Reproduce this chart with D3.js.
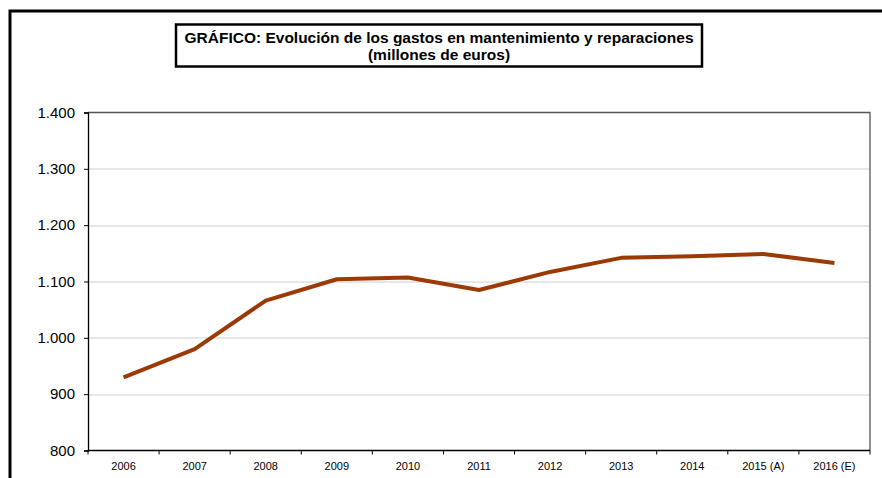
<!DOCTYPE html>
<html>
<head>
<meta charset="utf-8">
<script src="https://cdn.jsdelivr.net/npm/d3@7"></script>
<style>
  body { margin: 0; background: #fff; }
  text { font-family: "Liberation Sans", Arial, sans-serif; fill: #000; }
</style>
</head>
<body>
<div id="visualisation"></div>
<script>
// chart data
var years = ['2006', '2007', '2008', '2009', '2010', '2011', '2012', '2013', '2014', '2015 (A)', '2016 (E)'];
var gastos = [930, 980, 1066, 1104, 1107, 1085, 1117, 1142, 1145, 1149, 1133];
var yTicks = [800, 900, 1000, 1100, 1200, 1300, 1400];
var titleLines = ['GRÁFICO: Evolución de los gastos en mantenimiento y reparaciones', '(millones de euros)'];

var dims = {
    WIDTH: 882, HEIGHT: 478,
    MARGINS: { top: 112.5, right: 12, bottom: 27.5, left: 88 }
};
var plotW = 870 - dims.MARGINS.left;
var plotH = 450.5 - dims.MARGINS.top;

var svg = d3.select('#visualisation').append('svg')
    .attr('width', dims.WIDTH)
    .attr('height', dims.HEIGHT);

// outer frame (runs off the picture to the right and bottom)
svg.append('rect')
    .attr('x', 10).attr('y', 11)
    .attr('width', 900).attr('height', 500)
    .attr('fill', 'none').attr('stroke', '#000').attr('stroke-width', 3);

// title box
svg.append('rect')
    .attr('x', 176).attr('y', 24.5)
    .attr('width', 526).attr('height', 42)
    .attr('fill', '#fff').attr('stroke', '#000').attr('stroke-width', 2.5);
svg.selectAll('.title')
    .data(titleLines).enter().append('text')
    .attr('class', 'title')
    .attr('x', 439)
    .attr('y', function(d, i) { return 42.5 + i * 17; })
    .attr('text-anchor', 'middle')
    .style('font-size', '15.5px')
    .style('font-weight', 'bold')
    .text(function(d) { return d; });

var g = svg.append('g')
    .attr('transform', 'translate(' + dims.MARGINS.left + ',' + dims.MARGINS.top + ')');

var x = d3.scaleBand().domain(years).range([0, plotW]);
var y = d3.scaleLinear().domain([800, 1400]).range([plotH, 0]);

// gridlines
g.selectAll('.grid')
    .data(yTicks.slice(1, -1)).enter().append('line')
    .attr('class', 'grid')
    .attr('x1', 0).attr('x2', plotW)
    .attr('y1', function(d) { return Math.round(y(d)) + 0.5; })
    .attr('y2', function(d) { return Math.round(y(d)) + 0.5; })
    .attr('stroke', '#cfcfcf').attr('stroke-width', 1.2);

// plot border top/right
g.append('path')
    .attr('d', 'M0,0H' + plotW + 'V' + plotH)
    .attr('fill', 'none').attr('stroke', '#555').attr('stroke-width', 1.3);

// Y axis
var fmt = function(d) { return d3.format(',')(d).replace(/,/g, '.'); };
var yAxis = g.append('g')
    .call(d3.axisLeft(y).tickValues(yTicks).tickSize(4).tickPadding(9).tickFormat(fmt));
yAxis.select('.domain').attr('stroke', '#000').attr('stroke-width', 1.3);
yAxis.selectAll('text').style('font-size', '15px');

// X axis, ticks between categories
var xAxis = g.append('g')
    .attr('transform', 'translate(0,' + plotH + ')');
xAxis.append('line')
    .attr('x1', 0).attr('x2', plotW)
    .attr('stroke', '#000').attr('stroke-width', 1.6);
xAxis.selectAll('.tk')
    .data(years.concat(['end'])).enter().append('line')
    .attr('class', 'tk')
    .attr('x1', function(d, i) { return x.step() * i; })
    .attr('x2', function(d, i) { return x.step() * i; })
    .attr('y1', 0).attr('y2', 4)
    .attr('stroke', '#000');
xAxis.selectAll('.lbl')
    .data(years).enter().append('text')
    .attr('class', 'lbl')
    .attr('x', function(d) { return x(d) + x.bandwidth() / 2; })
    .attr('y', 19)
    .attr('text-anchor', 'middle')
    .style('font-size', '11px')
    .text(function(d) { return d; });

// the line
var valueline = d3.line()
    .x(function(d, i) { return x(years[i]) + x.bandwidth() / 2; })
    .y(function(d) { return y(d); });
g.append('path')
    .datum(gastos)
    .attr('d', valueline)
    .attr('fill', 'none')
    .attr('stroke', '#9c3a06')
    .attr('stroke-width', 4)
    .attr('stroke-linejoin', 'round');
</script>
</body>
</html>
